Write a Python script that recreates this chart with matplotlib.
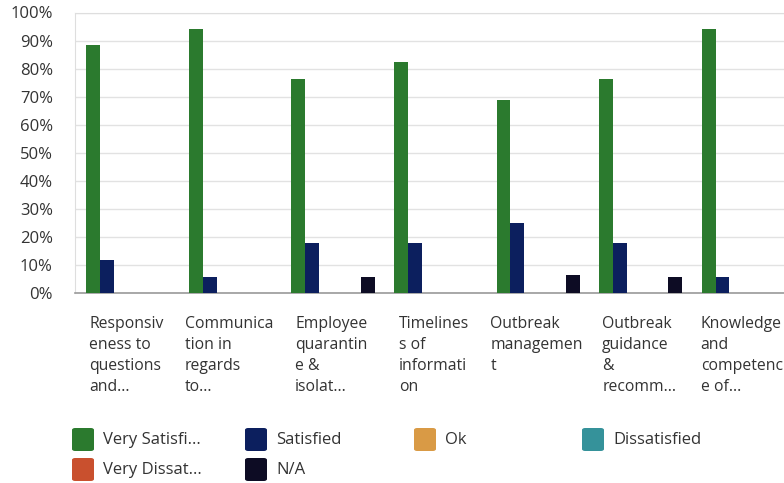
import matplotlib.pyplot as plt
import numpy as np
from matplotlib.patches import FancyBboxPatch

# categories (already wrapped / truncated as shown on the chart)
categories = [
    "Responsiv\neness to\nquestions\nand...",
    "Communica\ntion in\nregards\nto...",
    "Employee\nquarantin\ne &\nisolat...",
    "Timelines\ns of\ninformati\non",
    "Outbreak\nmanagemen\nt",
    "Outbreak\nguidance\n&\nrecomm...",
    "Knowledge\nand\ncompetenc\ne of...",
]

series_names = ["Very Satisfied", "Satisfied", "Ok", "Dissatisfied", "Very Dissatisfied", "N/A"]
legend_labels = ["Very Satisfi...", "Satisfied", "Ok", "Dissatisfied", "Very Dissat...", "N/A"]

very_satisfied = [88.24, 94.12, 76.47, 82.35, 68.75, 76.47, 94.12]
satisfied = [11.76, 5.88, 17.65, 17.65, 25.00, 17.65, 5.88]
ok = [0, 0, 0, 0, 0, 0, 0]
dissatisfied = [0, 0, 0, 0, 0, 0, 0]
very_dissatisfied = [0, 0, 0, 0, 0, 0, 0]
not_applicable = [0, 0, 5.88, 0, 6.25, 5.88, 0]

colors = ["#2b7a2e", "#0c1f5e", "#d99a45", "#35929a", "#c9502e", "#0d0c24"]

values = [very_satisfied, satisfied, ok, dissatisfied, very_dissatisfied, not_applicable]

fig = plt.figure(figsize=(7.84, 4.83), dpi=100)
ax = fig.add_axes([75 / 784, 190 / 483, 718 / 784, 280.5 / 483])

x = np.arange(len(categories))
bar_w = 0.135
start = -0.5 + 0.11
for j, (vals, col) in enumerate(zip(values, colors)):
    ax.bar(x + start + j * bar_w, vals, width=bar_w, align="edge", color=col, zorder=3)

ax.set_xlim(-0.5, len(categories) - 0.5)
ax.set_ylim(0, 100)
ax.set_yticks(np.arange(0, 101, 10))
ax.set_yticklabels([f"{v}%" for v in range(0, 101, 10)], fontsize=12, color="#333333",
                   family="Open Sans", fontweight="medium")
ax.tick_params(axis="y", length=0, pad=16)
ax.set_xticks([])
ax.grid(axis="y", color="#e2e2e2", linewidth=1, zorder=0)
for s in ["top", "left", "right"]:
    ax.spines[s].set_color("#dedede")
ax.spines["bottom"].set_color("#9a9a9a")
ax.spines["bottom"].set_linewidth(1.2)

# category labels: block centred in band, lines left aligned
for i, lab in enumerate(categories):
    ax.text(i, -0.083, lab, transform=ax.get_xaxis_transform(), ha="center", va="top",
            multialignment="left", fontsize=11.3, color="#333333", family="Open Sans",
            linespacing=1.42)

# legend, laid out on a fixed grid like the original
col_x = [72, 245, 414, 582]
row_y = [428, 458]
for k, (lab, col) in enumerate(zip(legend_labels, colors)):
    r, c = divmod(k, 4)
    px, py = col_x[c], row_y[r]
    box = FancyBboxPatch((px / 784, 1 - (py + 23) / 483), 22 / 784, 23 / 483,
                         boxstyle="round,pad=0,rounding_size=0.004",
                         transform=fig.transFigure, facecolor=col, edgecolor="none")
    fig.add_artist(box)
    fig.text((px + 31) / 784, 1 - (py + 12) / 483, lab, ha="left", va="center",
             fontsize=12, color="#333333", family="Open Sans")

fig.savefig("out.png", dpi=100)
